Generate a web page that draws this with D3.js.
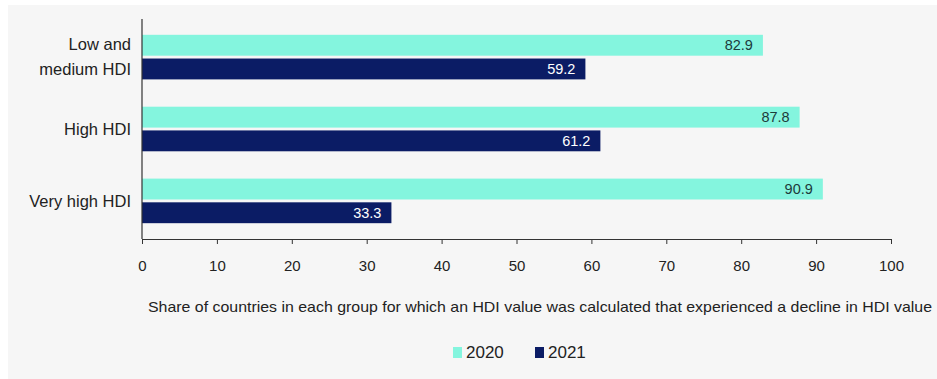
<!DOCTYPE html>
<html>
<head>
<meta charset="utf-8">
<script src="https://cdn.jsdelivr.net/npm/d3@7"></script>
<style>
  body { margin: 0; background: #ffffff; }
  text { font-family: "Liberation Sans", Arial, sans-serif; }
</style>
</head>
<body>
<div id="chart"></div>
<script>
const categories = ['Low and medium HDI', 'High HDI', 'Very high HDI'];
const categoryLines = [['Low and', 'medium HDI'], ['High HDI'], ['Very high HDI']];
const seriesNames = ['2020', '2021'];
const values2020 = [82.9, 87.8, 90.9];
const values2021 = [59.2, 61.2, 33.3];
const xTicks = [0, 10, 20, 30, 40, 50, 60, 70, 80, 90, 100];
const axisTitle = 'Share of countries in each group for which an HDI value was calculated that experienced a decline in HDI value';

const colors = {'2020': '#84f5de', '2021': '#0b1c65'};
const textColors = {'2020': '#1d3b3b', '2021': '#ffffff'};

const W = 937, H = 379;
const svg = d3.select('#chart').append('svg').attr('width', W).attr('height', H);

// grey panel
svg.append('rect').attr('x', 8).attr('y', 5).attr('width', W - 8).attr('height', H - 5).attr('fill', '#f6f6f6');

const x = d3.scaleLinear().domain([0, 100]).range([142, 891]);
const y = d3.scaleBand().domain(categories).range([19, 239]).paddingInner(0.38).paddingOuter(0.22);
const ySub = d3.scaleBand().domain(seriesNames).range([0, y.bandwidth()]).paddingInner(0.12);

const rows = categories.map((c, i) => ({cat: c, vals: [
  {s: '2020', v: values2020[i]},
  {s: '2021', v: values2021[i]}
]}));

const grp = svg.selectAll('g.row').data(rows).enter().append('g')
  .attr('class', 'row')
  .attr('transform', d => 'translate(0,' + y(d.cat) + ')');

grp.selectAll('rect').data(d => d.vals).enter().append('rect')
  .attr('x', x(0))
  .attr('y', d => ySub(d.s))
  .attr('width', d => x(d.v) - x(0))
  .attr('height', ySub.bandwidth())
  .attr('fill', d => colors[d.s]);

grp.selectAll('text.val').data(d => d.vals).enter().append('text')
  .attr('class', 'val')
  .attr('x', d => x(d.v) - 10)
  .attr('y', d => ySub(d.s) + ySub.bandwidth() / 2)
  .attr('dy', '0.36em')
  .attr('text-anchor', 'end')
  .attr('font-size', 14.5)
  .attr('fill', d => textColors[d.s])
  .text(d => d.v.toFixed(1));

// category labels
categories.forEach((c, i) => {
  const lines = categoryLines[i];
  const cy = y(c) + y.bandwidth() / 2;
  const t = svg.append('text')
    .attr('x', 131)
    .attr('text-anchor', 'end')
    .attr('font-size', 16.5)
    .attr('fill', '#222');
  lines.forEach((l, j) => {
    t.append('tspan')
      .attr('x', 131)
      .attr('y', cy + (j - (lines.length - 1) / 2) * 25)
      .attr('dy', '0.35em')
      .text(l);
  });
});

// y axis line
svg.append('line').attr('x1', x(0)).attr('x2', x(0)).attr('y1', 19).attr('y2', 239)
  .attr('stroke', '#333').attr('stroke-width', 1.2);

// x axis
const xAxis = svg.append('g').attr('transform', 'translate(0,239)')
  .call(d3.axisBottom(x).tickValues(xTicks).tickSize(5).tickPadding(16).tickSizeOuter(0));
xAxis.select('.domain').attr('stroke', '#333').attr('stroke-width', 1.2);
xAxis.selectAll('.tick line').attr('stroke', '#333');
xAxis.selectAll('.tick text').attr('font-size', 15).attr('fill', '#222')
  .attr('font-family', '"Liberation Sans", Arial, sans-serif');

svg.append('text')
  .attr('x', 540).attr('y', 307)
  .attr('dy', '0.35em')
  .attr('text-anchor', 'middle')
  .attr('font-size', 15)
  .attr('textLength', 784)
  .attr('lengthAdjust', 'spacingAndGlyphs')
  .attr('fill', '#222')
  .text(axisTitle);

// legend
const legend = svg.append('g').attr('transform', 'translate(453,352)');
const lx = [0, 82];
seriesNames.forEach((s, i) => {
  const g = legend.append('g').attr('transform', 'translate(' + lx[i] + ',0)');
  g.append('rect').attr('x', 0).attr('y', -5).attr('width', 9).attr('height', 11).attr('fill', colors[s]);
  g.append('text').attr('x', 13).attr('y', 0).attr('dy', '0.36em')
    .attr('font-size', 17).attr('fill', '#222').text(s);
});
</script>
</body>
</html>
